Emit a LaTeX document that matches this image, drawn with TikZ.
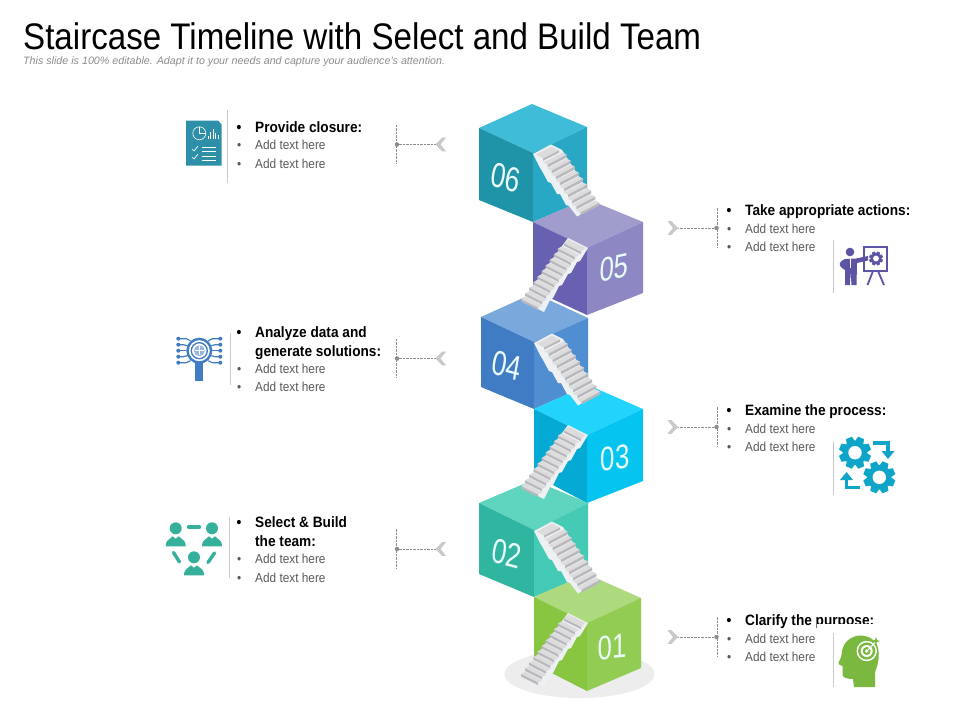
\documentclass[tikz,border=0pt]{standalone}
\usepackage{fontspec}
\setmainfont{Liberation Sans}
\newfontfamily\fbody[FakeStretch=0.91]{Liberation Sans}
\newfontfamily\ftitle[FakeStretch=0.895]{Liberation Sans}
\newfontfamily\fnum[FakeStretch=0.76]{Liberation Sans}
\newcount\nnc
\tikzset{
 lab/.style={anchor=base west,yshift=-5.2pt,inner sep=0pt,text=black,font=\fbody\bfseries\fontsize{15}{15}\selectfont},
 sublab/.style={anchor=base west,yshift=-4.6pt,inner sep=0pt,text=gray55,font=\fbody\fontsize{13}{13}\selectfont},
 numl/.style={inner sep=0pt,text=numw,font=\fnum\fontsize{34}{34}\selectfont,transform shape},
 numr/.style={inner sep=0pt,text=numw,font=\fnum\fontsize{34}{34}\selectfont,transform shape},
 dashc/.style={draw=gray60,line width=0.7pt,dash pattern=on 2.5pt off 1pt},
 dotn/.style={circle,fill=gray60,inner sep=0pt,minimum size=4.5pt},
 divl/.style={draw=divc,line width=0.8pt},
}
\definecolor{gray55}{HTML}{595959}
\definecolor{gray60}{HTML}{8C8C8C}
\definecolor{divc}{HTML}{C8C8C8}
\definecolor{numw}{HTML}{EAFBFB}
\definecolor{chev}{HTML}{C9C9C9}
\definecolor{trlight}{HTML}{DCDCDC}
\definecolor{trdark}{HTML}{B8B8BC}
\definecolor{strw}{HTML}{EEF1F3}
\newcommand{\cubeface}[9]{%
 \fill[c#8top] #1 -- #2 -- #4 -- #3 -- cycle;
 \fill[c#8left] #2 -- #4 -- #5 -- #6 -- cycle;
 \fill[c#8right] #3 -- #4 -- #5 -- #9 -- cycle;
}
\newcommand{\stairA}[2]{%
\begin{scope}[shift={(#1,#2)}]
 \fill[strw] (0,1) -- (18,-8.5) -- (29,-3) -- (64,52) -- (44,63.5) -- (36,53) -- (33,52) -- (27,41) -- (24,41) -- (18,30) -- (15,29) -- (9,18) -- (6,13) -- cycle;
 \fill[trlight] (3,1.5) -- (18,-6.5) -- (26,-2.5) -- (10,5.5) -- cycle;
 \fill[trdark] (10,5.5) -- (26,-2.5) -- (26,-0.3) -- (10,7.7) -- cycle;
 \foreach \i in {0,...,8}{
  \fill[trlight] ({10.5+4.1*\i},{9.5+6*\i}) -- ++(19,-10) -- ++(4.1,2.2) -- ++(-19,10) -- cycle;
  \fill[trdark] ({14.6+4.1*\i},{11.7+6*\i}) -- ++(19,-10) -- ++(0,2.7) -- ++(-19,10) -- cycle;
 }
\end{scope}}
\newcommand{\stairB}[2]{%
\begin{scope}[shift={(#1,#2)}]
 \fill[strw] (-19,-10) -- (1,0) -- (-7,13) -- (-10,14) -- (-16,25) -- (-19,26) -- (-25,37) -- (-28,38) -- (-34,50) -- (-37,52) -- (-43,64) -- (-46,62.5) -- (-64,53.5) -- (-62,49) -- (-22,-6) -- cycle;
 \fill[trlight] (-18.5,-8.5) -- (-2,0) -- (-6,4) -- (-23,-4.5) -- cycle;
 \fill[trdark] (-23,-4.5) -- (-6,4) -- (-6,6.2) -- (-23,-2.3) -- cycle;
 \foreach \i in {0,...,9}{
  \fill[trlight] ({-25-4.1*\i},{-1.8+5.6*\i}) -- ++(17,8.6) -- ++(-4.1,2.4) -- ++(-17,-8.6) -- cycle;
  \fill[trdark] ({-29.1-4.1*\i},{0.6+5.6*\i}) -- ++(17,8.6) -- ++(0,2.4) -- ++(-17,-8.6) -- cycle;
 }
\end{scope}}
\newcommand{\txt}[4]{%
 \global\advance\nnc by 1
 \node[#1] (tx\the\nnc) at (#2,#3) {#4};}
\newcommand{\leftconn}[3]{%
 \coordinate (#1t) at (#2,#3-20);
 \coordinate (#1b) at (#2,#3+19.5);
 \node[dotn] (#1d) at (#2+0.5,#3) {};
 \coordinate (#1c) at (#2+39,#3);
 \draw[dashc] (#1t) -- (#1b);
 \draw[dashc] (#1d) -- (#1c);
 \fill[chev] (#1c) -- ++(6.5,-6.8) -- ++(4,0) -- ++(-5.5,6.8) -- ++(5.5,6.8) -- ++(-4,0) -- cycle;
}
\newcommand{\rightconn}[3]{%
 \coordinate (#1t) at (#2,#3-20);
 \coordinate (#1b) at (#2,#3+19.5);
 \node[dotn] (#1d) at (#2-0.5,#3) {};
 \coordinate (#1c) at (#2-39,#3);
 \draw[dashc] (#1t) -- (#1b);
 \draw[dashc] (#1d) -- (#1c);
 \fill[chev] (#1c) -- ++(-6.5,-6.8) -- ++(-4,0) -- ++(5.5,6.8) -- ++(-5.5,6.8) -- ++(4,0) -- cycle;
}
\newcommand{\gearicon}[5]{%
 \begin{scope}[shift={(#1,#2)}]
 \fill[#4] (0,0) circle ({0.76*#3});
 \foreach \a in {0,45,...,315}{
  \fill[#4,rotate=\a+22.5] ({0.6*#3},{-0.29*#3}) -- ({#3},{-0.2*#3}) -- ({#3},{0.2*#3}) -- ({0.6*#3},{0.29*#3}) -- cycle;
 }
 \fill[#5] (0,0) circle ({0.42*#3});
 \end{scope}}
\definecolor{c6top}{HTML}{3FBDD8}\definecolor{c6left}{HTML}{1F94A8}\definecolor{c6right}{HTML}{28A8C4}
\definecolor{c5top}{HTML}{A09CCB}\definecolor{c5left}{HTML}{6860B0}\definecolor{c5right}{HTML}{8D87C4}
\definecolor{c4top}{HTML}{78A8DC}\definecolor{c4left}{HTML}{3F7CC4}\definecolor{c4right}{HTML}{4F8ED0}
\definecolor{c3top}{HTML}{22D4FB}\definecolor{c3left}{HTML}{04AAD3}\definecolor{c3right}{HTML}{05C5F0}
\definecolor{c2top}{HTML}{5FD5BF}\definecolor{c2left}{HTML}{2FB5A0}\definecolor{c2right}{HTML}{45CAB5}
\definecolor{c1top}{HTML}{ADD97F}\definecolor{c1left}{HTML}{88C540}\definecolor{c1right}{HTML}{92CC52}
\definecolor{icdoc}{HTML}{2D8FA8}
\definecolor{icpres}{HTML}{5B55A3}
\definecolor{icmag}{HTML}{3F7CC4}
\definecolor{icteam}{HTML}{35B09A}
\definecolor{icgear}{HTML}{0FA5C9}
\definecolor{ichead}{HTML}{7AB83F}
\begin{document}
\begin{tikzpicture}[x=1pt,y=-1pt]
\useasboundingbox (0,0) rectangle (960,720);
\fill[white] (0,0) rectangle (960,720);
% title
\node[anchor=base west,inner sep=0pt,font=\ftitle\fontsize{37}{37}\selectfont] (title) at (23,49) {Staircase Timeline with Select and Build Team};
\node[anchor=base west,inner sep=0pt,text=gray60,font=\itshape\fontsize{10.7}{10.7}\selectfont] (subtitle) at (23,64) {This slide is 100\% editable. Adapt it to your needs and capture your audience's attention.};
% shadow
\fill[black!7] (579.5,674) ellipse (75 and 24);
% cubes
\cubeface{(532,104)}{(479,128)}{(587,127)}{(533,153)}{(533,222)}{(479,200)}{(587,199)}{6}{(587,199)}
\cubeface{(587,199)}{(533,222)}{(643,222)}{(587,248)}{(587,315)}{(533,290)}{(643,293)}{5}{(643,293)}
\cubeface{(534,293)}{(481,317)}{(588,318)}{(534,342)}{(534,409)}{(481,387)}{(588,385)}{4}{(588,385)}
\cubeface{(588,385)}{(534,409)}{(643,409)}{(587,435)}{(587,503)}{(534,475)}{(643,481)}{3}{(643,481)}
\cubeface{(533,480)}{(479,503)}{(588,503)}{(534,530)}{(534,597)}{(479,574)}{(588,574)}{2}{(588,574)}
\cubeface{(587,574)}{(534,597)}{(641,598)}{(587,623)}{(587,691)}{(534,664)}{(641,668)}{1}{(641,668)}
% stairs
\stairA{533}{153}
\stairB{587}{248}
\stairA{534}{342}
\stairB{587}{435}
\stairA{534}{530}
\stairB{587}{623}
% numbers
\node[numl,cm={1,-0.26,0.18,1,(0pt,0pt)}] (n6) at (506,178) {06};
\node[numl,cm={1,-0.26,0.18,1,(0pt,0pt)}] (n4) at (507,366) {04};
\node[numl,cm={1,-0.26,0.18,1,(0pt,0pt)}] (n2) at (507,554) {02};
\node[numr,cm={1,0.22,0.05,1,(0pt,0pt)}] (n5) at (614,268) {05};
\node[numr,cm={1,0.12,0,1,(0pt,0pt)}] (n3) at (615,458) {03};
\node[numr,cm={1,0.1,0,1,(0pt,0pt)}] (n1) at (612,647) {01};
% connectors
\leftconn{L6}{396.5}{144.5}
\leftconn{L4}{396.5}{358.5}
\leftconn{L2}{396.5}{549}
\rightconn{R5}{717}{228}
\rightconn{R3}{717}{427}
\rightconn{R1}{717}{637}
% left texts
\txt{lab}{236.5}{127}{•}\txt{lab}{255}{127}{Provide closure:}
\txt{sublab}{237}{145}{•}\txt{sublab}{255}{145}{Add text here}
\txt{sublab}{237}{163.5}{•}\txt{sublab}{255}{163.5}{Add text here}
\txt{lab}{236.5}{332}{•}\txt{lab}{255}{332}{Analyze data and}
\txt{lab}{255}{351}{generate solutions:}
\txt{sublab}{237}{368.5}{•}\txt{sublab}{255}{368.5}{Add text here}
\txt{sublab}{237}{387}{•}\txt{sublab}{255}{387}{Add text here}
\txt{lab}{236.5}{522}{•}\txt{lab}{255}{522}{Select \& Build}
\txt{lab}{255}{541}{the team:}
\txt{sublab}{237}{559}{•}\txt{sublab}{255}{559}{Add text here}
\txt{sublab}{237}{577.5}{•}\txt{sublab}{255}{577.5}{Add text here}
% right texts
\txt{lab}{726.5}{210}{•}\txt{lab}{745}{210}{Take appropriate actions:}
\txt{sublab}{727}{228.5}{•}\txt{sublab}{745}{228.5}{Add text here}
\txt{sublab}{727}{246.5}{•}\txt{sublab}{745}{246.5}{Add text here}
\txt{lab}{726.5}{410}{•}\txt{lab}{745}{410}{Examine the process:}
\txt{sublab}{727}{428.5}{•}\txt{sublab}{745}{428.5}{Add text here}
\txt{sublab}{727}{446.5}{•}\txt{sublab}{745}{446.5}{Add text here}
\txt{lab}{726.5}{620}{•}\txt{lab}{745}{620}{Clarify the purpose:}
\fill[white] (817,623.5) rectangle (892,690);
\txt{sublab}{727}{638.5}{•}\txt{sublab}{745}{638.5}{Add text here}
\txt{sublab}{727}{656.5}{•}\txt{sublab}{745}{656.5}{Add text here}
% dividers
\coordinate (dv1a) at (227.5,110); \coordinate (dv1b) at (227.5,183); \draw[divl] (dv1a) -- (dv1b);
\coordinate (dv2a) at (230.7,333); \coordinate (dv2b) at (230.7,385); \draw[divl] (dv2a) -- (dv2b);
\coordinate (dv3a) at (229.3,517); \coordinate (dv3b) at (229.3,578); \draw[divl] (dv3a) -- (dv3b);
\coordinate (dv4a) at (833.3,240); \coordinate (dv4b) at (833.3,293); \draw[divl] (dv4a) -- (dv4b);
\coordinate (dv5a) at (833.3,442); \coordinate (dv5b) at (833.3,495); \draw[divl] (dv5a) -- (dv5b);
\coordinate (dv6a) at (833.3,633); \coordinate (dv6b) at (833.3,687); \draw[divl] (dv6a) -- (dv6b);
% icon: document
\fill[icdoc] (186,120.7) -- (218,120.7) -- (221.7,124.5) -- (221.7,165.7) -- (186,165.7) -- cycle;
\draw[white,line width=0.6pt] (199.3,133.3) circle (6.5);
\draw[white,line width=0.6pt] (199.3,127) -- (199.3,133.3) -- (205.6,133.3);
\foreach \x/\h in {208/3,210.5/7,213/10,215.5/6,218/4}{\draw[white,line width=0.8pt] (\x,139) -- ++(0,-\h);}
\draw[white,line width=0.7pt] (192,149) -- (194,151) -- (198,146);
\draw[white,line width=0.7pt] (192,157) -- (194,159) -- (198,154);
\foreach \y in {147.5,151,156.5,160}{\draw[white,line width=0.8pt] (201.5,\y) -- (216,\y);}
% icon: presenter
\fill[icpres] (850,252) circle (4.3);
\fill[icpres] (845,259) -- (856,258.5) -- (868,256) -- (868,260.5) -- (857,263) -- (856.5,285) -- (851.5,285) -- (850.6,272) -- (849.8,285) -- (845,285) -- (845,270) .. controls (841,268) and (839,265) .. (840,263) .. controls (841,261) and (843,259.5) .. (845,259) -- cycle;
\draw[white,line width=0.7pt] (850.5,259) -- (850.5,268);
\draw[icpres,line width=1.8pt] (864,247) rectangle (887,271);
\draw[icpres,line width=1.8pt] (873,271) -- (867.5,285);
\draw[icpres,line width=1.8pt] (878,271) -- (884,285);
\gearicon{876}{258.5}{7}{icpres}{white}
% icon: magnifier
\fill[icmag] (195,360) rectangle (203.3,381);
\fill[white] (199.3,350.7) circle (12.5);
\draw[icmag,line width=2.4pt] (199.3,350.7) circle (11.8);
\draw[icmag,line width=1.3pt] (199.3,350.7) circle (8);
\fill[icmag!55] (199.3,350.7) circle (5.4);
\draw[white,line width=0.9pt] (195,350.7) -- (203.6,350.7) (199.3,346.4) -- (199.3,355);
\foreach \sx in {1,-1}{
 \begin{scope}[shift={(199.3,350.7)},xscale=\sx]
  \draw[icmag,line width=1.2pt] (12,-5) -- (16,-6) -- (20,-6);
  \draw[icmag,line width=1.2pt] (13,0) -- (20,0);
  \draw[icmag,line width=1.2pt] (12,5) -- (16,6) -- (20,6);
  \draw[icmag,line width=1.2pt] (9,-10) -- (13,-12) -- (20,-12);
  \draw[icmag,line width=1.2pt] (9,10) -- (13,12) -- (20,12);
  \foreach \yy in {-12,-6,0,6,12}{\fill[icmag] (21,\yy) circle (2);}
 \end{scope}}
% icon: team
\foreach \x/\y in {175.7/528.3,212/528.3,194/557.3}{
 \fill[icteam] (\x,\y) circle (6);
 \fill[icteam] (\x-10,\y+18) .. controls (\x-10,\y+13.5) and (\x-8,\y+11.5) .. (\x-5.5,\y+10) -- (\x-3,\y+8) -- (\x,\y+10.5) -- (\x+3,\y+8) -- (\x+5.5,\y+10) .. controls (\x+8,\y+11.5) and (\x+10,\y+13.5) .. (\x+10,\y+18) -- cycle;
}
\draw[icteam,line width=3.4pt,line cap=round] (188.5,527) -- (199.5,527);
\draw[icteam,line width=3.4pt,line cap=round] (173.5,552.5) -- (179.5,562);
\draw[icteam,line width=3.4pt,line cap=round] (214.5,553) -- (208,562.5);
% icon: gears
\gearicon{855}{452.7}{16}{icgear}{white}
\gearicon{879.3}{477.3}{16}{icgear}{white}
\draw[icgear,line width=3.2pt] (873,443) -- (888,443) -- (888,452);
\fill[icgear] (881.5,451) -- (894.5,451) -- (888,459) -- cycle;
\draw[icgear,line width=3.2pt] (860,487.5) -- (846.5,487.5) -- (846.5,479);
\fill[icgear] (840,480) -- (853,480) -- (846.5,472) -- cycle;
% icon: head
\fill[ichead] (875,687) -- (875,672) .. controls (879,663) and (880,652) .. (877,645) .. controls (873,637) and (866,635.5) .. (860,635.5) .. controls (851,636) and (842,642) .. (841.5,655) .. controls (841.5,658) and (838,662) .. (838.5,664) -- (842.5,666) -- (842.5,675) .. controls (843,678) and (848,679) .. (853,679) -- (854,687) -- cycle;
\fill[white] (866.7,651) circle (10.2);
\fill[ichead] (866.7,651) circle (8.6);
\fill[white] (866.7,651) circle (6);
\fill[ichead] (866.7,651) circle (4);
\fill[white] (866.7,651) circle (1.8);
\draw[white,line width=1pt] (867,651) -- (875,642.5);
\fill[ichead] (876,637) -- (877,640) -- (880,641) -- (877,642) -- (876,645) -- (875,642) -- (872,641) -- (875,640) -- cycle;
\end{tikzpicture}
\end{document}
